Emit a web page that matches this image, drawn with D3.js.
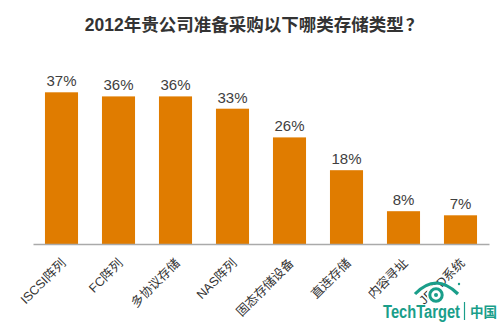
<!DOCTYPE html>
<html>
<head>
<meta charset="utf-8">
<script src="https://cdn.jsdelivr.net/npm/d3@7"></script>
<style>
  html, body { margin: 0; padding: 0; background: #fff; }
  svg { display: block; }
</style>
</head>
<body>
<svg id="chart" width="500" height="327"></svg>
<script>
// Storage types planned for purchase in 2012 (share of respondents, %)
const categories = ["ISCSI阵列", "FC阵列", "多协议存储", "NAS阵列", "固态存储设备", "直连存储", "内容寻址", "JBOD系统"];
const values = [37, 36, 36, 33, 26, 18, 8, 7];
const titleMain = "2012年贵公司准备采购以下哪类存储类型";
const titleMark = "？";

const svg = d3.select("#chart");
const font = "'Liberation Sans', Arial, 'Noto Sans CJK SC', sans-serif";

const x = d3.scaleBand()
  .domain(categories)
  .range([33, 489])
  .paddingInner(0.42)
  .paddingOuter(0.21);

const y = d3.scaleLinear()
  .domain([0, 40])
  .range([244, 80]);

// Title
const titleText = svg.append("text")
  .attr("x", 254)
  .attr("y", 31)
  .attr("text-anchor", "middle")
  .attr("font-family", font)
  .attr("font-size", 17.5)
  .attr("font-weight", "bold")
  .attr("fill", "#333");
titleText.append("tspan").text(titleMain);
titleText.append("tspan")
  .attr("font-family", "'Noto Sans CJK SC', sans-serif")
  .attr("dx", 2)
  .text(titleMark);

// Bars
svg.append("g").selectAll("rect")
  .data(values)
  .join("rect")
  .attr("x", (d, i) => x(categories[i]))
  .attr("y", d => y(d))
  .attr("width", x.bandwidth())
  .attr("height", d => y(0) - y(d))
  .attr("fill", "#E07C00");

// Value labels
svg.append("g").selectAll("text")
  .data(values)
  .join("text")
  .attr("x", (d, i) => x(categories[i]) + x.bandwidth() / 2)
  .attr("y", d => y(d) - 6)
  .attr("text-anchor", "middle")
  .attr("font-family", font)
  .attr("font-size", 15)
  .attr("fill", "#404040")
  .text(d => d + "%");

// Baseline axis
const xAxis = d3.axisBottom(x).tickSize(0).tickPadding(0);
const axisG = svg.append("g")
  .attr("transform", `translate(0,${y(0)})`)
  .call(xAxis);
axisG.select(".domain")
  .attr("stroke", "#aaa")
  .attr("stroke-width", 1.5);
axisG.selectAll(".tick text")
  .attr("font-family", font)
  .attr("font-size", 12.5)
  .attr("fill", "#333")
  .attr("text-anchor", "end")
  .attr("dy", null)
  .attr("transform", "translate(5,20) rotate(-45)");

// TechTarget 中国 logo
const teal = "#1A9E8A";
const logo = svg.append("g");
logo.append("circle")
  .attr("cx", 436).attr("cy", 294).attr("r", 9.5)
  .attr("fill", "#fff");
logo.append("path")
  .attr("d", "M415,294 Q436,272 458,294")
  .attr("fill", "none")
  .attr("stroke", teal)
  .attr("stroke-width", 3.2);
logo.append("circle")
  .attr("cx", 436).attr("cy", 295).attr("r", 6.2)
  .attr("fill", "none")
  .attr("stroke", teal)
  .attr("stroke-width", 3);
logo.append("circle")
  .attr("cx", 436).attr("cy", 295).attr("r", 2)
  .attr("fill", teal);
logo.append("circle")
  .attr("cx", 459).attr("cy", 284).attr("r", 1.2)
  .attr("fill", teal);
logo.append("text")
  .attr("x", 383).attr("y", 318)
  .attr("font-family", font)
  .attr("font-size", 18)
  .attr("font-weight", "bold")
  .attr("fill", teal)
  .attr("textLength", 77)
  .attr("lengthAdjust", "spacingAndGlyphs")
  .text("TechTarget");
logo.append("line")
  .attr("x1", 464.5).attr("x2", 464.5)
  .attr("y1", 302).attr("y2", 320)
  .attr("stroke", teal)
  .attr("stroke-width", 1.2);
logo.append("text")
  .attr("x", 470).attr("y", 317)
  .attr("font-family", "'Noto Sans CJK SC', sans-serif")
  .attr("font-size", 13.5)
  .attr("font-weight", "bold")
  .attr("fill", teal)
  .text("中国");
</script>
</body>
</html>
